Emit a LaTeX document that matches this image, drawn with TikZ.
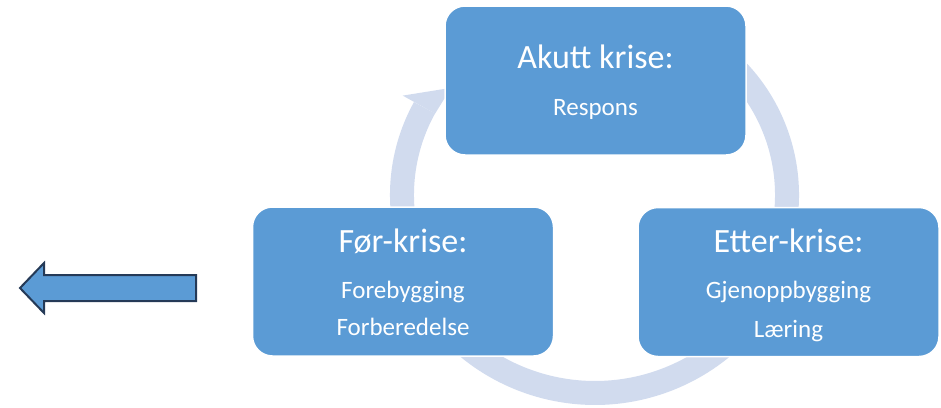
\documentclass[tikz,border=0pt]{standalone}
\usepackage{fontspec}
\setmainfont{Carlito}
\definecolor{boxblue}{RGB}{91,155,213}
\definecolor{ringblue}{RGB}{209,219,238}
\definecolor{arrowedge}{RGB}{37,58,87}
\begin{document}
\begin{tikzpicture}[x=1pt,y=-1pt,
  box/.style={draw=white, line width=1.5pt, fill=boxblue, rounded corners=20pt, inner sep=0pt, minimum width=301pt, minimum height=149pt},
  title/.style={text=white, font=\fontsize{34}{40}\selectfont, anchor=base, inner sep=0pt},
  body/.style={text=white, font=\fontsize{25}{30}\selectfont, anchor=base, inner sep=0pt},
  ring/.style={draw=ringblue, line width=24pt, line cap=butt},
  leftarrow/.style={fill=boxblue, draw=arrowedge, line width=2pt, line join=miter}]
\useasboundingbox (0,0) rectangle (941,407);
% circular connectors (hidden ends lie behind the boxes)
\draw[ring] (697,39.1) arc[start angle=-60, end angle=15, radius=180];
\draw[ring] (758.8,307.7) arc[start angle=35, end angle=145, radius=200];
\draw[ring] (408.1,241.6) arc[start angle=165, end angle=209, radius=180];
\fill[ringblue] (402.7,95.6) -- (475,84) -- (465,100) -- (444.4,98.6) -- (435.1,113.6) -- cycle;
% boxes
\node[box] (akutt) at (595.5,80.5) {};
\node[box] (for) at (403,281.5) {};
\node[box] (etter) at (788.5,282) {};
% texts
\node[title] (t1) at (595.5,68) {Akutt krise:};
\node[body] (b1) at (595.5,115) {Respons};
\node[title] (t2) at (403,252) {Før-krise:};
\node[body] (b2a) at (403,298) {Forebygging};
\node[body] (b2b) at (403,335) {Forberedelse};
\node[title] (t3) at (788.5,252) {Etter-krise:};
\node[body] (b3a) at (788.5,298) {Gjenoppbygging};
\node[body] (b3b) at (788.5,337) {Læring};
% left block arrow
\draw[leftarrow] (20,288) -- (44,263) -- (44,275) -- (196,275) -- (196,301) -- (44,301) -- (44,313) -- cycle;
\end{tikzpicture}
\end{document}
